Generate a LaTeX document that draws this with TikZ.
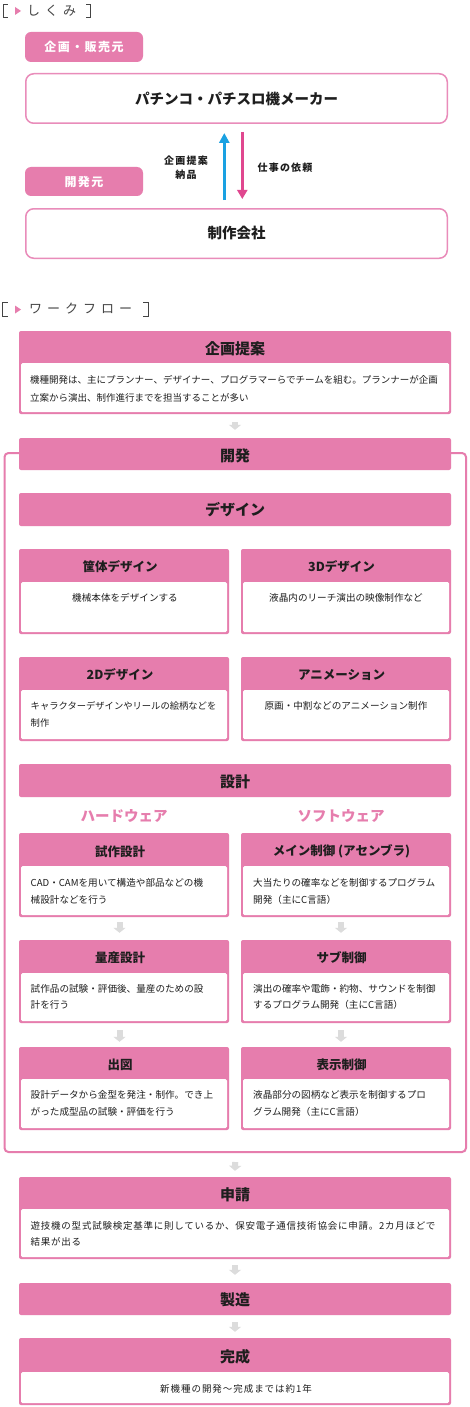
\documentclass[tikz,border=0pt]{standalone}
\usepackage{fontspec}
\setmainfont{Noto Sans CJK JP}
\usetikzlibrary{arrows.meta}
\definecolor{pk}{HTML}{E67DAD}
\definecolor{pkl}{HTML}{E98CBA}
\definecolor{txt}{HTML}{1E1E1E}
\definecolor{arrg}{HTML}{DCDCDC}
\definecolor{bluea}{HTML}{1AA1E2}
\definecolor{pinka}{HTML}{E0478F}
\definecolor{brkc}{HTML}{444444}
\newcommand\mkcard[6]{%
  \node[cardbg, minimum width={#4-#2}, minimum height={#5-#3}] (#1) at ({(#2+#4)/2},{(#3+#5)/2}) {};
  \node[cardbody, minimum width={#4-#2-4}, minimum height={#5-#6-2}] (#1b) at ({(#2+#4)/2},{(#6+#5-2)/2}) {};
}
\begin{document}
\begin{tikzpicture}[x=1pt,y=-1pt,
  cardbg/.style={fill=pk, draw=none, rounded corners=2pt, inner sep=0pt},
  cardbody/.style={fill=white, draw=none, rounded corners=1.5pt, inner sep=0pt},
  hdr/.style={font=\fontsize{15}{15}\selectfont\bfseries, text=txt, inner sep=0pt},
  shdr/.style={font=\fontsize{12.5}{12.5}\selectfont\bfseries, text=txt, inner sep=0pt},
  bodyt/.style={font=\fontsize{9.6}{16.5}\selectfont, text=txt, inner sep=0pt, align=left},
  garrow/.style={draw=arrg, line width=6pt, -{Triangle[width=12pt,length=5pt]}},
  lbl/.style={fill=pk, rounded corners=6pt, inner sep=0pt, minimum width=118, text=white,
     font=\fontsize{12}{12}\selectfont\bfseries\addfontfeature{LetterSpace=12}},
  wbox/.style={fill=white, draw=pkl, line width=1.5pt, rounded corners=8pt, inner sep=0pt,
     minimum width=421.5, minimum height=49.5, text=txt, font=\fontsize{14.5}{14.5}\selectfont\bfseries},
  albl/.style={font=\fontsize{10}{14}\selectfont\bfseries\addfontfeature{LetterSpace=12}, text=txt, inner sep=0pt, align=center},
  sect/.style={font=\fontsize{13}{13}\selectfont, text=brkc, inner sep=0pt},
  brk/.style={draw=brkc, line width=0.8pt},
  subt/.style={font=\fontsize{14.5}{14.5}\selectfont\bfseries, text=pk, inner sep=0pt}
]
\fill[white] (0,0) rectangle (470,1407);
\useasboundingbox (0,0) rectangle (470,1407);

% ---------- しくみ ----------
\draw[brk] (7.5,4) -- (3,4) -- (3,17) -- (7.5,17);
\fill[pk] (15,7) -- (21,11) -- (15,15) -- cycle;
\node[sect, anchor=west] (shikumi) at (27,10.5) {し\hspace{5pt}く\hspace{5pt}み};
\draw[brk] (86,4) -- (90.5,4) -- (90.5,17) -- (86,17);

\node[lbl, minimum height=30] (hanbai) at (84,47) {企画・販売元};
\node[wbox] (maker) at (236.5,98.5) {パチンコ・パチスロ機メーカー};
\node[lbl, minimum height=29] (kaihatsumoto) at (84,181.5) {開発元};
\node[wbox] (company) at (236.5,233.5) {制作会社};

\draw[line width=2.7pt, bluea, -{Triangle[width=10pt,length=10pt]}]
  ([xshift=-12.2pt,yshift=8pt]company.north) -- ([xshift=-12.2pt,yshift=-9pt]maker.south);
\draw[line width=2.7pt, pinka, -{Triangle[width=10pt,length=9pt]}]
  ([xshift=5.8pt,yshift=-8pt]maker.south) -- ([xshift=5.8pt,yshift=9pt]company.north);
\node[albl] (teian) at (186,168) {企画提案\\納品};
\node[albl] (irai) at (285,168) {仕事の依頼};

% ---------- ワークフロー ----------
\draw[brk] (7.5,302) -- (2.5,302) -- (2.5,316) -- (7.5,316);
\fill[pk] (15,305.5) -- (21,309.5) -- (15,313.5) -- cycle;
\node[sect, anchor=west] (workflow) at (29,309)
  {ワ\hspace{5pt}ー\hspace{5pt}ク\hspace{5pt}フ\hspace{5pt}ロ\hspace{5pt}ー};
\draw[brk] (143,302) -- (148,302) -- (148,316) -- (143,316);

% 企画提案
\mkcard{kikaku}{19}{331}{451}{414}{363}
\node[hdr] (kikakuh) at (235,349) {企画提案};
\node[bodyt, font=\fontsize{9.5}{17.5}\selectfont, anchor=west] (kikakut) at (30,389)
  {機種開発は、主にプランナー、デザイナー、プログラマーらでチームを組む。プランナーが企画\\立案から演出、制作進行までを担当することが多い};

% outer frame of 開発
\node[draw=pk, line width=2pt, rounded corners=4pt, inner sep=0pt,
      minimum width=461.5, minimum height=699] (frame) at (235.25,802.5) {};

% 開発
\node[cardbg, minimum width=432, minimum height=32] (kaihatsu) at (235,454) {};
\node[hdr] (kaihatsuh) at (235,455.5) {開発};
\draw[garrow] ([yshift=-8pt]kikaku.south) -- ([yshift=8pt]kaihatsu.north);

% デザイン
\node[cardbg, minimum width=432, minimum height=33] (design) at (235,509.5) {};
\node[hdr] (designh) at (235,510) {デザイン};

\mkcard{kyotai}{19}{549}{229}{634}{582}
\node[shdr] (kyotaih) at (120,566.5) {筐体デザイン};
\node[bodyt] (kyotait) at (125,598) {機械本体をデザインする};

\mkcard{threed}{241}{549}{451}{634}{582}
\node[shdr] (threedh) at (341.5,566.5) {3Dデザイン};
\node[bodyt] (threedt) at (346,598) {液晶内のリーチ演出の映像制作など};

\mkcard{twod}{19}{657}{229}{741}{690}
\node[shdr] (twodh) at (120,675) {2Dデザイン};
\node[bodyt, font=\fontsize{9.3}{16.5}\selectfont, anchor=west] (twodt) at (30.5,714.5) {キャラクターデザインやリールの絵柄などを\\制作};

\mkcard{anime}{241}{657}{451}{741}{690}
\node[shdr] (animeh) at (341.5,675) {アニメーション};
\node[bodyt] (animet) at (346,706) {原画・中割などのアニメーション制作};

% 設計
\node[cardbg, minimum width=432, minimum height=33] (sekkei) at (235,780.5) {};
\node[hdr] (sekkeih) at (235,781.5) {設計};
\node[subt] (hard) at (124,816) {ハードウェア};
\node[subt] (soft) at (341,816) {ソフトウェア};

\mkcard{shisaku}{19}{833}{229}{917}{866}
\node[shdr] (shisakuh) at (120,851.5) {試作設計};
\node[bodyt, anchor=west] (shisakut) at (30.5,891.5) {CAD・CAMを用いて構造や部品などの機\\械設計などを行う};

\mkcard{mainc}{241}{833}{451}{917}{866}
\node[shdr] (mainch) at (341.5,851.5) {メイン制御 (アセンブラ)};
\node[bodyt, anchor=west] (mainct) at (253,891.5) {大当たりの確率などを制御するプログラム\\開発（主にC言語）};

\mkcard{ryosan}{19}{940}{229}{1023}{973}
\node[shdr] (ryosanh) at (120,958) {量産設計};
\node[bodyt, anchor=west] (ryosant) at (30.5,997) {試作品の試験・評価後、量産のための設\\計を行う};

\mkcard{subc}{241}{940}{451}{1023}{973}
\node[shdr] (subch) at (341.5,958) {サブ制御};
\node[bodyt, anchor=west] (subct) at (253,997) {演出の確率や電飾・約物、サウンドを制御\\するプログラム開発（主にC言語）};

\mkcard{shutsuzu}{19}{1047}{229}{1130}{1079}
\node[shdr] (shutsuzuh) at (120,1065) {出図};
\node[bodyt, anchor=west] (shutsuzut) at (30.5,1103.5) {設計データから金型を発注・制作。でき上\\がった成型品の試験・評価を行う};

\mkcard{hyoji}{241}{1047}{451}{1130}{1079}
\node[shdr] (hyojih) at (341.5,1065) {表示制御};
\node[bodyt, anchor=west] (hyojit) at (253,1103.5) {液晶部分の図柄など表示を制御するプロ\\グラム開発（主にC言語）};

\draw[garrow] ([xshift=-4.5pt,yshift=-5pt]shisaku.south) -- ([xshift=-4.5pt,yshift=7pt]ryosan.north);
\draw[garrow] ([xshift=-5pt,yshift=-5pt]mainc.south) -- ([xshift=-5pt,yshift=7pt]subc.north);
\draw[garrow] ([xshift=-4.5pt,yshift=-7pt]ryosan.south) -- ([xshift=-4.5pt,yshift=5pt]shutsuzu.north);
\draw[garrow] ([xshift=-5pt,yshift=-7pt]subc.south) -- ([xshift=-5pt,yshift=5pt]hyoji.north);

% 申請
\mkcard{shinsei}{19}{1177}{451}{1259}{1209}
\node[hdr] (shinseih) at (235,1194.5) {申請};
\node[bodyt, font=\fontsize{9.5}{16}\selectfont\addfontfeature{LetterSpace=8}, anchor=west] (shinseit) at (30.5,1234)
  {遊技機の型式試験検定基準に則しているか、保安電子通信技術協会に申請。2カ月ほどで\\結果が出る};
\draw[garrow] ([yshift=-9pt]frame.south) -- ([yshift=6pt]shinsei.north);

% 製造
\node[cardbg, minimum width=432, minimum height=32] (seizo) at (235,1299) {};
\node[hdr] (seizoh) at (235,1300) {製造};
\draw[garrow] ([yshift=-6pt]shinsei.south) -- ([yshift=8pt]seizo.north);

% 完成
\mkcard{kansei}{19}{1338}{451}{1405}{1372}
\node[hdr] (kanseih) at (235,1356.5) {完成};
\node[bodyt, font=\fontsize{9.5}{16}\selectfont\addfontfeature{LetterSpace=10}] (kanseit) at (236,1389) {新機種の開発〜完成までは約1年};
\draw[garrow] ([yshift=-7pt]seizo.south) -- ([yshift=6pt]kansei.north);
\end{tikzpicture}
\end{document}
